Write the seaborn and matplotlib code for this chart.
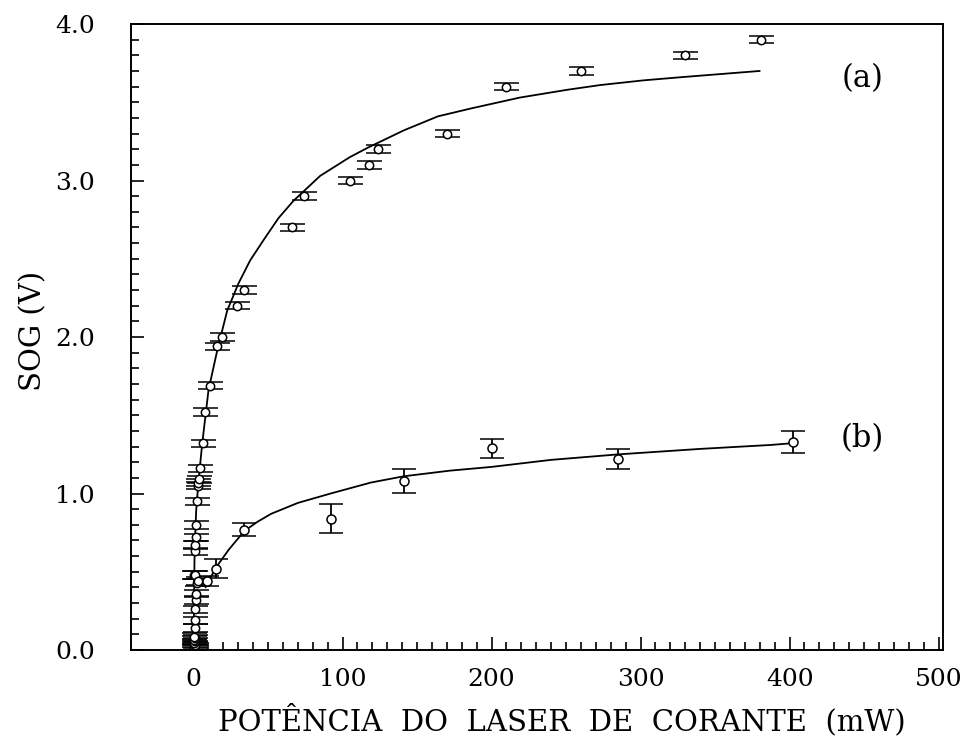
import numpy as np
import pandas as pd
import seaborn as sns
import matplotlib.pyplot as plt

# series (a): measured points
xa = [0.3, 0.6, 0.2, 0.8, 0.4, 0.7, 0.3, 0.9, 0.5,
      0.8, 1.0, 1.2, 1.5, 1.8, 2.0, 0.6, 1.0, 3.0,
      1.1, 1.2, 1.4, 1.8, 2.5, 3.0, 3.2, 3.4, 4.0, 6.5, 7.4, 11, 16, 19, 29,
      34, 66, 74, 105, 118, 124, 170, 210, 260, 330, 381]
ya = [0.005, 0.015, 0.025, 0.035, 0.045, 0.055, 0.065, 0.075, 0.085,
      0.14, 0.19, 0.26, 0.32, 0.36, 0.43, 0.48, 0.48, 0.44,
      0.63, 0.67, 0.72, 0.80, 0.95, 1.05, 1.07, 1.09, 1.16, 1.32,
      1.52, 1.69, 1.94, 2.00, 2.20, 2.30, 2.70, 2.90, 3.00, 3.10, 3.20, 3.30,
      3.60, 3.70, 3.80, 3.90]
erra = 0.024

# series (a): fitted curve
fit_xa = [0.0, 0.3, 0.7, 1.8, 3.4, 5.8, 10, 16, 22.6, 27, 30, 38, 47, 57, 67,
          85, 105, 117, 141, 164, 186, 219, 251, 273, 302, 327, 380]
fit_ya = [0.05, 0.30, 0.66, 0.90, 1.09, 1.32, 1.66, 1.92, 2.17, 2.27, 2.34,
          2.49, 2.62, 2.76, 2.87, 3.03, 3.15, 3.21, 3.32, 3.41, 3.46, 3.53,
          3.58, 3.61, 3.64, 3.66, 3.70]

# series (b): measured points
xb = [9, 15, 34, 92, 141, 200, 285, 402]
yb = [0.44, 0.52, 0.77, 0.84, 1.08, 1.29, 1.22, 1.33]
errb = [0.03, 0.06, 0.04, 0.095, 0.075, 0.06, 0.065, 0.07]

# series (b): fitted curve
fit_xb = [8, 10, 16, 23.5, 34, 43, 52, 70, 92, 119, 141, 172, 200, 240, 285,
          340, 387, 400]
fit_yb = [0.40, 0.44, 0.54, 0.64, 0.76, 0.82, 0.87, 0.94, 1.00, 1.07, 1.11,
          1.146, 1.17, 1.215, 1.25, 1.285, 1.31, 1.32]

x_major = [0, 100, 200, 300, 400, 500]
x_minor = [v for v in range(10, 500, 10) if v % 100]
y_major = [0, 1, 2, 3, 4]
y_labels = ['0.0', '1.0', '2.0', '3.0', '4.0']
y_minor = [v / 10 for v in range(1, 40) if v % 10]

sns.set_style('ticks')
plt.rcParams['font.family'] = ['DejaVu Serif']
plt.rcParams['text.color'] = 'black'
plt.rcParams['axes.labelcolor'] = 'black'

fig = plt.figure(figsize=(9.69, 7.41), dpi=100)
ax = fig.add_axes([0.1352, 0.1228, 0.838, 0.8448])

fa = pd.DataFrame({'x': fit_xa, 'y': fit_ya})
fb = pd.DataFrame({'x': fit_xb, 'y': fit_yb})
sns.lineplot(data=fa, x='x', y='y', sort=False, color='black', lw=1.3, ax=ax)
sns.lineplot(data=fb, x='x', y='y', sort=False, color='black', lw=1.3, ax=ax)

ax.errorbar(xa, ya, yerr=erra, fmt='o', ms=6, mfc='white', mec='black',
            mew=1.1, ecolor='black', elinewidth=1.3, capsize=9, capthick=1.4)
ax.errorbar(xb, yb, yerr=errb, fmt='o', ms=6.5, mfc='white', mec='black',
            mew=1.1, ecolor='black', elinewidth=1.3, capsize=8.5, capthick=1.4)

ax.text(449, 3.65, '(a)', fontsize=22, ha='center', va='center')
ax.text(449, 1.35, '(b)', fontsize=22, ha='center', va='center')

ax.set_xlim(-42, 503)
ax.set_ylim(0, 4.0)
ax.set_xticks(x_major)
ax.set_xticks(x_minor, minor=True)
ax.set_yticks(y_major)
ax.set_yticklabels(y_labels)
ax.set_yticks(y_minor, minor=True)
ax.tick_params(which='both', direction='in', top=False, right=False,
               bottom=True, left=True, colors='black', labelsize=18)
ax.tick_params(which='major', length=9.5, width=1.2)
ax.tick_params(which='minor', length=6, width=1.2)
ax.tick_params(axis='x', pad=13)
ax.tick_params(axis='y', pad=26)
for s in ax.spines.values():
    s.set_color('black')
    s.set_linewidth(1.4)

ax.set_xlabel('POTÊNCIA  DO  LASER  DE  CORANTE  (mW)', fontsize=21)
ax.xaxis.set_label_coords(0.53, -0.085)
ax.set_ylabel('SOG (V)', fontsize=21)
ax.yaxis.set_label_coords(-0.103, 0.51)

fig.savefig('out.png', dpi=100)
